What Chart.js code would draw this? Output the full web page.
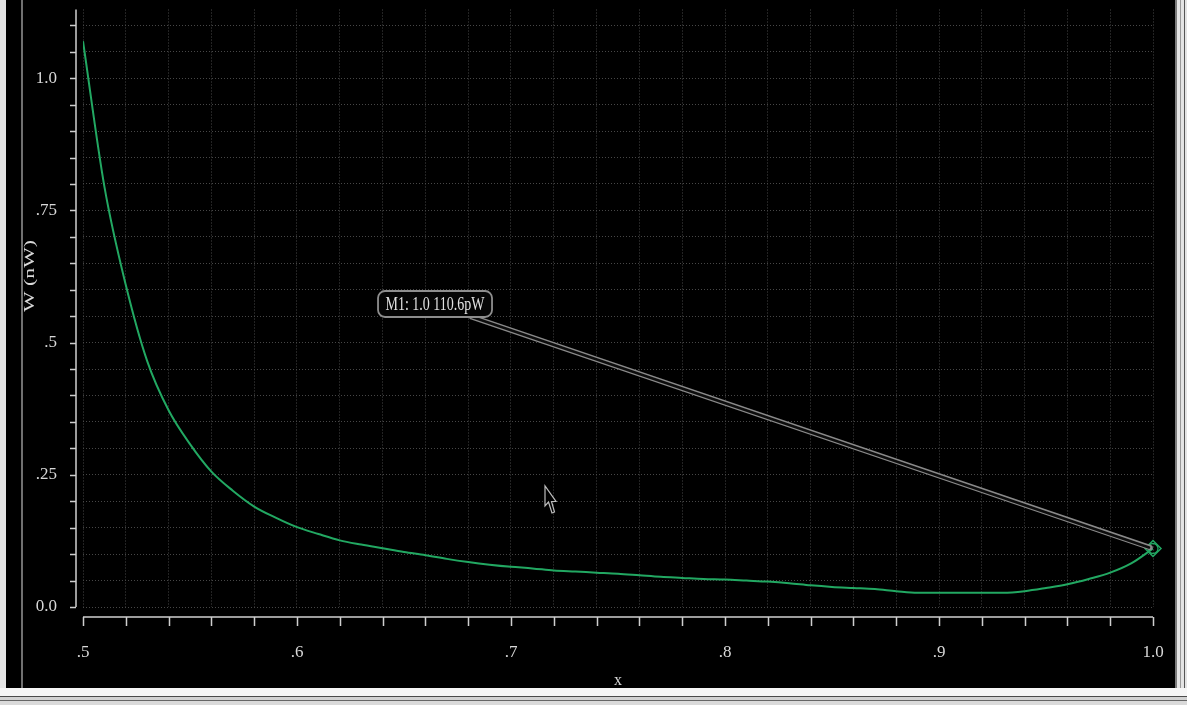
<!DOCTYPE html>
<html>
<head>
<meta charset="utf-8">
<script src="https://cdn.jsdelivr.net/npm/chart.js@4.4.1/dist/chart.umd.min.js"></script>
<style>
  html, body { margin: 0; padding: 0; background: #000; overflow: hidden; }
  #wrap { width: 1187px; height: 705px; position: relative; }
</style>
</head>
<body>
<div id="wrap"><canvas id="c" width="1187" height="705"></canvas></div>
<script>
// Sweep variable x and the measured power W in nW
const sweepX = [
  0.50, 0.51, 0.52, 0.53, 0.54, 0.55, 0.56, 0.57, 0.58, 0.59,
  0.60, 0.61, 0.62, 0.63, 0.64, 0.65, 0.66, 0.67, 0.68, 0.69,
  0.70, 0.71, 0.72, 0.73, 0.74, 0.75, 0.76, 0.77, 0.78, 0.79,
  0.80, 0.81, 0.82, 0.83, 0.84, 0.85, 0.86, 0.87, 0.88, 0.89,
  0.90, 0.91, 0.92, 0.93, 0.94, 0.95, 0.96, 0.97, 0.98, 0.99,
  1.00
];
const powerNW = [
  1.070, 0.795, 0.609, 0.465, 0.372, 0.308, 0.256, 0.220, 0.190, 0.169,
  0.151, 0.138, 0.126, 0.118, 0.111, 0.104, 0.098, 0.091, 0.085, 0.080,
  0.076, 0.073, 0.069, 0.067, 0.065, 0.063, 0.060, 0.057, 0.055, 0.053,
  0.052, 0.050, 0.048, 0.045, 0.041, 0.038, 0.036, 0.034, 0.030, 0.027,
  0.027, 0.027, 0.027, 0.027, 0.030, 0.036, 0.043, 0.053, 0.065, 0.083,
  0.1106
];

// Labelled tick positions and their text
const xLabelTicks = [0.5, 0.6, 0.7, 0.8, 0.9, 1.0];
const xLabelText  = ['.5', '.6', '.7', '.8', '.9', '1.0'];
const yLabelTicks = [0, 0.25, 0.5, 0.75, 1.0];
const yLabelText  = ['0.0', '.25', '.5', '.75', '1.0'];

// Marker M1 sits on the last sample; its readout box is anchored in data units
const markerIndex = sweepX.length - 1;
const markerBoxAt = { x: 0.6645, y: 0.573 };

const GREEN = '#22a862';
const FONT = "'Liberation Serif', 'DejaVu Serif', serif";

function labelFor(values, texts, v) {
  const i = values.findIndex(t => Math.abs(t - v) < 1e-6);
  return i >= 0 ? texts[i] : '';
}

const curve = sweepX.map((x, i) => ({ x, y: powerNW[i] }));
const markerPoint = [{ x: sweepX[markerIndex], y: powerNW[markerIndex] }];

// Window chrome around the plot panel
const framePlugin = {
  id: 'frame',
  beforeDraw(chart) {
    const { ctx, width, height } = chart;
    ctx.save();
    ctx.fillStyle = '#e4e4e4';
    ctx.fillRect(0, 0, width, height);
    ctx.fillStyle = '#000';
    ctx.fillRect(6, 0, 1169, 688);
    ctx.fillStyle = '#707070';
    ctx.fillRect(21, 0, 2, 688);
    ctx.fillStyle = '#7c7c7c';
    ctx.fillRect(1175, 0, 2, 690);
    ctx.fillStyle = '#9a9a9a';
    ctx.fillRect(1180, 0, 1, 696);
    ctx.fillStyle = '#555';
    ctx.fillRect(1184, 0, 1, height);
    ctx.fillStyle = '#f6f6f6';
    ctx.fillRect(0, 688, width, 8);
    ctx.fillStyle = '#4a4a4a';
    ctx.fillRect(0, 696, width, 1);
    ctx.fillStyle = '#d2d2d2';
    ctx.fillRect(0, 697, width, 3);
    ctx.fillStyle = '#666';
    ctx.fillRect(0, 700, width, 1);
    ctx.fillStyle = '#dadada';
    ctx.fillRect(0, 701, width, 4);
    ctx.restore();
  }
};

// Detached axis lines with tick marks, plus the rotated y title
const axesPlugin = {
  id: 'axesLines',
  afterDraw(chart) {
    const { ctx, chartArea: a, scales: { x, y } } = chart;
    ctx.save();
    ctx.strokeStyle = '#cfcfcf';
    ctx.lineWidth = 1.5;
    const yAxisX = a.left - 7;
    const xAxisY = a.bottom + 10;
    ctx.beginPath();
    ctx.moveTo(yAxisX, a.top);
    ctx.lineTo(yAxisX, y.getPixelForValue(0));
    y.ticks.forEach(t => {
      const py = Math.round(y.getPixelForValue(t.value)) + 0.5;
      ctx.moveTo(yAxisX - 6, py);
      ctx.lineTo(yAxisX, py);
    });
    ctx.stroke();

    ctx.beginPath();
    ctx.moveTo(x.getPixelForValue(x.min), xAxisY);
    ctx.lineTo(x.getPixelForValue(x.max), xAxisY);
    x.ticks.forEach(t => {
      const px = Math.round(x.getPixelForValue(t.value)) + 0.5;
      ctx.moveTo(px, xAxisY);
      ctx.lineTo(px, xAxisY + 9);
    });
    ctx.stroke();

    // y axis title
    ctx.translate(30, 276);
    ctx.rotate(-Math.PI / 2);
    ctx.scale(1.45, 1);
    ctx.fillStyle = '#d8d8d8';
    ctx.font = '15px ' + FONT;
    ctx.textAlign = 'center';
    ctx.textBaseline = 'middle';
    ctx.fillText('W (nW)', 0, 0);
    ctx.restore();
  }
};

// Marker readout box with its leader line
const markerLabelPlugin = {
  id: 'markerLabel',
  afterDatasetsDraw(chart) {
    const { ctx, scales: { x, y } } = chart;
    const mx = x.getPixelForValue(sweepX[markerIndex]);
    const my = y.getPixelForValue(powerNW[markerIndex]);
    const cx = x.getPixelForValue(markerBoxAt.x);
    const cy = y.getPixelForValue(markerBoxAt.y);
    const w = 114, h = 26;
    const text = 'M1: ' + sweepX[markerIndex].toFixed(1) + ' ' +
      (powerNW[markerIndex] * 1000).toFixed(1) + 'pW';
    ctx.save();
    // leader: a pale stroke with a dark core reads as a double line
    ctx.lineCap = 'round';
    ctx.strokeStyle = '#8a8a8a';
    ctx.lineWidth = 5.5;
    ctx.beginPath();
    ctx.moveTo(cx + 37, cy + h / 2);
    ctx.lineTo(mx - 3, my - 1);
    ctx.stroke();
    ctx.strokeStyle = '#0c0c0c';
    ctx.lineWidth = 2.5;
    ctx.beginPath();
    ctx.moveTo(cx + 37, cy + h / 2);
    ctx.lineTo(mx - 4, my - 1);
    ctx.stroke();

    // box
    ctx.fillStyle = '#050505';
    ctx.strokeStyle = '#8e8e8e';
    ctx.lineWidth = 1.8;
    ctx.beginPath();
    ctx.roundRect(cx - w / 2, cy - h / 2, w, h, 7);
    ctx.fill();
    ctx.stroke();

    ctx.translate(cx, cy + 1);
    ctx.scale(1, 1.3);
    ctx.fillStyle = '#e2e2e2';
    ctx.font = '14px ' + FONT;
    ctx.textAlign = 'center';
    ctx.textBaseline = 'middle';
    ctx.fillText(text, 0, 0);
    ctx.restore();
  }
};

// Mouse pointer resting over the plot
const pointerPlugin = {
  id: 'pointer',
  afterDraw(chart) {
    const { ctx } = chart;
    ctx.save();
    ctx.translate(545, 486);
    ctx.beginPath();
    ctx.moveTo(0, 0);
    ctx.lineTo(0, 20);
    ctx.lineTo(3.5, 16);
    ctx.lineTo(7, 27);
    ctx.lineTo(9.5, 26);
    ctx.lineTo(6.5, 15.5);
    ctx.lineTo(11, 15.5);
    ctx.closePath();
    ctx.fillStyle = '#000';
    ctx.fill();
    ctx.strokeStyle = '#bdbdbd';
    ctx.lineWidth = 1.2;
    ctx.stroke();
    ctx.restore();
  }
};

new Chart(document.getElementById('c'), {
  type: 'line',
  data: {
    datasets: [
      {
        data: curve,
        borderColor: GREEN,
        borderWidth: 2,
        pointRadius: 0,
        cubicInterpolationMode: 'monotone',
        fill: false
      },
      {
        data: markerPoint,
        showLine: false,
        pointStyle: 'rectRot',
        pointRadius: 8,
        borderColor: GREEN,
        backgroundColor: 'rgba(0,0,0,0)',
        pointBorderWidth: 1.5,
        clip: false
      },
      {
        data: markerPoint,
        showLine: false,
        pointStyle: 'circle',
        pointRadius: 5,
        borderColor: GREEN,
        backgroundColor: 'rgba(0,0,0,0)',
        pointBorderWidth: 1.3,
        clip: false
      }
    ]
  },
  options: {
    responsive: false,
    animation: false,
    devicePixelRatio: 1,
    layout: { padding: { top: 5, right: 34, left: 0, bottom: 0 } },
    plugins: { legend: { display: false }, tooltip: { enabled: false } },
    events: [],
    scales: {
      x: {
        type: 'linear',
        min: 0.5,
        max: 1.0,
        afterFit(s) {
          s.height = 98;
          s.paddingLeft = 0;
          s.paddingRight = 0;
        },
        ticks: {
          stepSize: 0.02,
          autoSkip: false,
          maxRotation: 0,
          minRotation: 0,
          padding: 35,
          color: '#d8d8d8',
          font: { family: FONT, size: 17 },
          callback: v => labelFor(xLabelTicks, xLabelText, v)
        },
        grid: { color: '#474747', lineWidth: 1, drawTicks: false },
        border: { display: false, dash: [1, 2] },
        title: {
          display: true,
          text: 'x',
          color: '#d8d8d8',
          font: { family: FONT, size: 16 },
          padding: { top: 0, bottom: 15 }
        }
      },
      y: {
        type: 'linear',
        min: 0,
        max: 1.13,
        afterFit(s) {
          s.width = 83;
          s.paddingTop = 0;
          s.paddingBottom = 0;
        },
        ticks: {
          stepSize: 0.05,
          includeBounds: false,
          autoSkip: false,
          padding: 26,
          color: '#d8d8d8',
          font: { family: FONT, size: 17 },
          callback: v => labelFor(yLabelTicks, yLabelText, v)
        },
        grid: { color: '#474747', lineWidth: 1, drawTicks: false },
        border: { display: false, dash: [1, 2] }
      }
    }
  },
  plugins: [framePlugin, axesPlugin, markerLabelPlugin, pointerPlugin]
});
</script>
</body>
</html>
